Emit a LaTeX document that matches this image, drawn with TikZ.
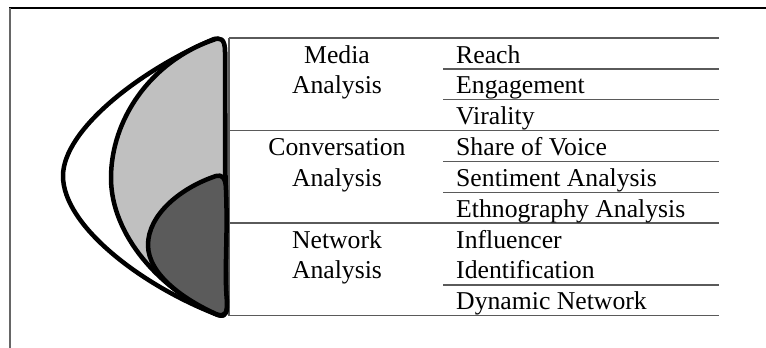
\documentclass[tikz,border=0pt]{standalone}
\usepackage{fontspec}
\setmainfont{Liberation Serif}
\definecolor{lightfill}{HTML}{C0C0C0}
\definecolor{darkfill}{HTML}{5B5B5B}
\definecolor{rulegray}{HTML}{5A5A5A}
\tikzset{
  blob/.style={line width=4.5pt, line join=round, draw=black},
  rowline/.style={line width=1.4pt, draw=rulegray},
  cat/.style={align=center, anchor=base, inner sep=0pt, font=\fontsize{25.7}{30.85}\selectfont},
  item/.style={anchor=base west, inner sep=0pt, font=\fontsize{25.7}{30.85}\selectfont},
}
\begin{document}
\begin{tikzpicture}[x=1pt,y=-1pt]
\useasboundingbox (0,0) rectangle (766,348);
% frame
\draw[line width=1.5pt] (9,8) -- (766,8);
\draw[line width=2pt, black!60] (10,8) -- (10,348);

% table rules
\draw[rowline] (229,38) -- (229,315.6);
\foreach \r in {0,3,6,9}
  \draw[rowline] (229,{38+30.85*\r}) -- (719,{38+30.85*\r});
\foreach \r in {1,2,4,5,8}
  \draw[rowline] (443,{38+30.85*\r}) -- (719,{38+30.85*\r});

% categories (base = second line)
\node[cat] (media) at (337,93.85) {Media\\Analysis};
\node[cat] (conv) at (337,186.4) {Conversation\\Analysis};
\node[cat] (net) at (337,278.9) {Network\\Analysis};

% items
\foreach \txt [count=\i from 0] in {Reach,Engagement,Virality,Share of Voice,Sentiment Analysis,Ethnography Analysis,Influencer,Identification,Dynamic Network}
  \node[item] (it\i) at (456,{63+30.85*\i}) {\txt};

% shapes
\draw[blob, fill=white] (214,39) .. controls (140,70) and (63,130) .. (63,176)
  .. controls (63,225) and (140,285) .. (218,315)
  .. controls (228,318) and (227,310) .. (226,300) -- (225,52)
  .. controls (225,40) and (220,38) .. (214,39) -- cycle;
\draw[blob, fill=lightfill] (225,190) -- (225,52)
  .. controls (225,38) and (220,37) .. (213,40)
  .. controls (150,62) and (111,120) .. (111,178)
  .. controls (111,235) and (160,290) .. (218,315)
  .. controls (227,318) and (227,310) .. (226,300) -- cycle;
\draw[blob, fill=darkfill] (226,190) .. controls (226,178) and (222,174) .. (216,176)
  .. controls (180,188) and (148,215) .. (148,245)
  .. controls (148,275) and (185,300) .. (216,314)
  .. controls (226,318) and (227,312) .. (227,302)
  .. controls (224,270) and (228,240) .. (226,190) -- cycle;
\end{tikzpicture}
\end{document}
